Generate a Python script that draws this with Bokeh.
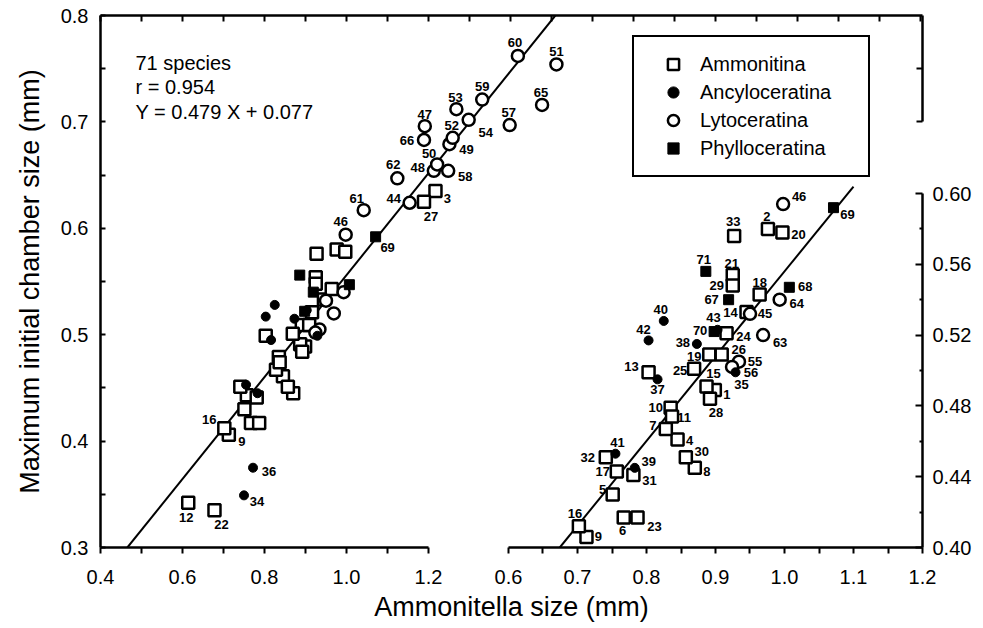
import numpy as np
from bokeh.plotting import figure
from bokeh.models import (ColumnDataSource, Range1d, LinearAxis, FixedTicker, Legend,
                          LegendItem, Label, PrintfTickFormatter)
from bokeh.core.properties import value
from bokeh.embed import file_html
from bokeh.resources import INLINE

# ---------------- data ----------------
species = list(range(1, 72))
suborder = (["Ammonitina"] * 33 + ["Ancyloceratina"] * 10 +
            ["Lytoceratina"] * 23 + ["Phylloceratina"] * 5)

ammonitella_mm = [
    0.899, 0.976, 1.217, 0.845, 0.751, 0.767, 0.828, 0.870, 0.713, 0.835,
    0.837, 0.614, 0.803, 0.945, 0.887, 0.702, 0.757, 0.964, 0.891, 0.997,
    0.925, 0.678, 0.787, 0.916, 0.869, 0.909, 1.189, 0.892, 0.925, 0.857,
    0.781, 0.741, 0.927, 0.750, 0.929, 0.772, 0.816, 0.873, 0.783, 0.825,
    0.755, 0.803, 0.903, 1.154, 0.950, 0.998, 1.191, 1.213, 1.251, 1.221,
    1.512, 1.259, 1.268, 1.298, 0.934, 0.924, 1.398, 1.248, 1.331, 1.418,
    1.042, 1.124, 0.969, 0.993, 1.477, 1.189, 0.919, 1.007, 1.071, 0.898,
    0.886]

chamber_mm = [
    0.489, 0.580, 0.635, 0.461, 0.430, 0.417, 0.467, 0.445, 0.406, 0.479,
    0.474, 0.342, 0.499, 0.533, 0.491, 0.412, 0.443, 0.543, 0.509, 0.578,
    0.554, 0.335, 0.417, 0.521, 0.501, 0.509, 0.625, 0.484, 0.548, 0.451,
    0.441, 0.451, 0.576, 0.349, 0.499, 0.375, 0.495, 0.515, 0.445, 0.528,
    0.453, 0.517, 0.523, 0.624, 0.532, 0.594, 0.696, 0.654, 0.679, 0.660,
    0.754, 0.685, 0.712, 0.702, 0.505, 0.502, 0.697, 0.654, 0.721, 0.762,
    0.617, 0.647, 0.520, 0.540, 0.716, 0.683, 0.540, 0.547, 0.592, 0.522,
    0.556]

n_species = 71
r_value = 0.954
slope = 0.479
intercept = 0.077

x_tick_labels_main = ["0.4", "0.6", "0.8", "1.0", "1.2"]
x_minor_main = [0.5, 0.7, 0.9, 1.1]
x_tick_labels_inset = ["0.6", "0.7", "0.8", "0.9", "1.0", "1.1", "1.2"]
x_minor_inset = [0.65, 0.75, 0.85, 0.95, 1.05, 1.15]
y_tick_labels_main = ["0.3", "0.4", "0.5", "0.6", "0.7", "0.8"]
y_minor_main = [0.35, 0.45, 0.55, 0.65, 0.75]
y_tick_labels_inset = ["0.40", "0.44", "0.48", "0.52", "0.56", "0.60"]
y_minor_inset = [0.42, 0.46, 0.50, 0.54, 0.58]
bracket_ticks = [0.7, 0.75]

groups = ["Ammonitina", "Ancyloceratina", "Lytoceratina", "Phylloceratina"]

# label placement (pixel offsets of each number from its marker)
main_label_offsets = {
    60: (-3, -13), 51: (0, -13), 65: (-1, -12), 57: (-1, -13), 59: (0, -13),
    54: (17, 13), 53: (-1, -12), 47: (0, -12), 66: (-17, 1), 52: (-1, -12),
    49: (17, 5), 50: (-8, -11), 48: (-16, -3), 58: (17, 6), 62: (-4, -14),
    44: (-16, -4), 27: (7, 15), 3: (12, 7), 61: (-7, -12), 46: (-5, -13),
    69: (12, 11), 16: (-15, -9), 9: (13, 7), 36: (16, 4), 34: (13, 6),
    12: (-2, 15), 22: (7, 14)}
inset_label_offsets = {
    46: (16, -8), 69: (14, 7), 2: (-1, -12), 20: (16, 2), 33: (-1, -14),
    71: (-2, -12), 21: (-1, -11), 29: (-16, 0), 67: (-17, 0), 18: (0, -12),
    68: (16, -1), 64: (17, 4), 14: (-16, 0), 45: (15, 0), 40: (-3, -11),
    42: (-5, -11), 43: (-4, -12), 70: (-14, -1), 24: (17, 3), 38: (-14, -1),
    63: (17, 7), 19: (-15, 2), 26: (17, -5), 55: (16, 0), 56: (19, 6),
    35: (6, 12), 25: (-14, 2), 13: (-17, -6), 37: (0, 10), 15: (7, -13),
    1: (12, 5), 28: (6, 14), 10: (-15, 0), 11: (12, 1), 7: (-13, -3),
    4: (12, 1), 30: (16, -6), 8: (12, 4), 41: (2, -11), 32: (-18, 0),
    39: (14, -6), 17: (-14, 0), 31: (16, 6), 5: (-10, -5), 6: (-1, 13),
    23: (17, 9), 16: (-4, -13), 9: (12, 0)}

# ---------------- geometry ----------------
W, H = 983, 628
BL, BR, BT, BB = 100, 61, 15, 81
FRAME_W, FRAME_H = W - BL - BR, H - BT - BB
MX0 = 0.4; MX1 = MX0 + FRAME_W / 410.0
MY0, MY1 = 0.3, 0.8
IX1 = 1.2; IX0 = IX1 - FRAME_W / 690.0
IY0 = 0.40; IY1 = IY0 + FRAME_H / 1770.0
INSET_X_LIM = (0.6, 1.2)
INSET_Y_LIM = (0.40, 0.60)
INSET_LINE_END = 1.10

FONT = "Liberation Sans"

def ix_to_main(v):
    return min(round(MX0 + (v - IX0) * (MX1 - MX0) / (IX1 - IX0), 6), MX1)

p = figure(width=W, height=H, x_range=Range1d(MX0, MX1), y_range=Range1d(MY0, MY1),
           x_axis_type=None, y_axis_type=None, toolbar_location=None, output_backend="svg",
           min_border_left=BL, min_border_right=BR, min_border_top=BT, min_border_bottom=BB)
p.extra_x_ranges = {"ix": Range1d(IX0, IX1)}
p.extra_y_ranges = {"iy": Range1d(IY0, IY1)}
p.outline_line_color = None
p.background_fill_color = "white"
p.border_fill_color = "white"

AXW = 2.5

def style_labels(ax, size="20px"):
    ax.major_label_text_font = FONT
    ax.major_label_text_font_size = size
    ax.major_label_text_color = "black"
    ax.axis_line_width = AXW
    ax.axis_line_color = "black"
    ax.major_tick_line_width = 2
    ax.minor_tick_line_width = 2

def bare_axis(**kw):
    ax = LinearAxis(ticker=FixedTicker(ticks=[], minor_ticks=[]), major_tick_out=0,
                    major_tick_in=0, minor_tick_out=0, minor_tick_in=0,
                    major_label_standoff=0, **kw)
    ax.axis_line_width = AXW
    ax.axis_line_color = "black"
    return ax

def tick_only_axis(minor, length, **kw):
    ax = LinearAxis(ticker=FixedTicker(ticks=[], minor_ticks=minor), major_tick_out=0,
                    major_tick_in=0, minor_tick_out=0, minor_tick_in=length,
                    major_label_standoff=0, **kw)
    ax.axis_line_width = AXW
    ax.axis_line_color = "black"
    ax.minor_tick_line_width = 2
    ax.minor_tick_line_color = "black"
    return ax

# ---- bottom: two line-only axes + one tick/label axis ----
p.add_layout(bare_axis(bounds=(float(x_tick_labels_main[0]), float(x_tick_labels_main[-1]))), "below")
p.add_layout(bare_axis(x_range_name="ix", bounds=INSET_X_LIM), "below")

main_major = [float(t) for t in x_tick_labels_main]
inset_major = [ix_to_main(float(t)) for t in x_tick_labels_inset]
overrides = {v: t for v, t in zip(main_major, x_tick_labels_main)}
overrides.update({v: t for v, t in zip(inset_major, x_tick_labels_inset)})
bottom = LinearAxis(ticker=FixedTicker(ticks=main_major + inset_major,
                                       minor_ticks=x_minor_main + [ix_to_main(v) for v in x_minor_inset]),
                    major_label_overrides=overrides, axis_label="Ammonitella size (mm)",
                    major_tick_out=6, major_tick_in=0, minor_tick_out=6, minor_tick_in=0,
                    major_label_standoff=16, axis_label_standoff=5)
style_labels(bottom)
bottom.axis_line_color = None
bottom.axis_label_text_font = FONT
bottom.axis_label_text_font_style = "normal"
bottom.axis_label_text_font_size = "27px"
bottom.axis_label_text_color = "black"
p.add_layout(bottom, "below")

# ---- left ----
left = LinearAxis(ticker=FixedTicker(ticks=[float(t) for t in y_tick_labels_main],
                                     minor_ticks=y_minor_main),
                  formatter=PrintfTickFormatter(format="%.1f"),
                  axis_label="Maximum initial chamber size (mm)",
                  major_tick_in=5, major_tick_out=0, minor_tick_in=5, minor_tick_out=0,
                  major_label_standoff=12, axis_label_standoff=13)
style_labels(left)
left.axis_label_text_font = FONT
left.axis_label_text_font_style = "normal"
left.axis_label_text_font_size = "27px"
left.axis_label_text_color = "black"
p.add_layout(left, "left")

# ---- top: ticks every 0.1 pointing inward ----
top = tick_only_axis([round(v, 1) for v in np.arange(4, 25) / 10.0], 6)
p.add_layout(top, "above")

# ---- right: bracket (main scale) + inset axis ----
bracket = tick_only_axis(bracket_ticks, 6, bounds=(0.7, 0.8))
p.add_layout(bracket, "right")

right = LinearAxis(y_range_name="iy", bounds=INSET_Y_LIM,
                   ticker=FixedTicker(ticks=[float(t) for t in y_tick_labels_inset],
                                      minor_ticks=y_minor_inset),
                   formatter=PrintfTickFormatter(format="%.2f"),
                   major_tick_in=7, major_tick_out=0, minor_tick_in=3, minor_tick_out=0,
                   major_label_standoff=10)
style_labels(right)
p.add_layout(right, "right")

# ---------------- regression lines ----------------
xa = np.array([(MY0 - intercept) / slope, (MY1 - intercept) / slope])
p.line(xa, slope * xa + intercept, line_color="black", line_width=2)
xb = np.array([(INSET_Y_LIM[0] - intercept) / slope, INSET_LINE_END])
p.line(xb, slope * xb + intercept, line_color="black", line_width=2,
       x_range_name="ix", y_range_name="iy")

# ---------------- points ----------------
X = np.array(ammonitella_mm); Y = np.array(chamber_mm); G = np.array(suborder)
in_inset = ((X >= INSET_X_LIM[0]) & (X <= INSET_X_LIM[1]) &
            (Y >= INSET_Y_LIM[0]) & (Y <= INSET_Y_LIM[1]))

style = {
    "Ammonitina": dict(marker="square", size=12, fill_color="white", line_color="black", line_width=2.5),
    "Lytoceratina": dict(marker="circle", size=12, fill_color="white", line_color="black", line_width=2.5),
    "Ancyloceratina": dict(marker="circle", size=9, fill_color="black", line_color="black", line_width=1),
    "Phylloceratina": dict(marker="square", size=10, fill_color="black", line_color="black", line_width=1),
}
draw_order = ["Ammonitina", "Lytoceratina", "Ancyloceratina", "Phylloceratina"]
legend_renderers = {}
for g in draw_order:
    m = G == g
    r = p.scatter(X[m], Y[m], **style[g])
    legend_renderers[g] = r
    mi = m & in_inset
    p.scatter(X[mi], Y[mi], x_range_name="ix", y_range_name="iy", **style[g])

def label_source(offsets):
    ids = list(offsets.keys())
    return ColumnDataSource(dict(
        x=[ammonitella_mm[i - 1] for i in ids], y=[chamber_mm[i - 1] for i in ids],
        t=[str(i) for i in ids], dx=[offsets[i][0] for i in ids], dy=[offsets[i][1] for i in ids]))

txt = dict(text="t", x_offset="dx", y_offset="dy", text_font=value(FONT), text_font_style="bold",
           text_font_size="13px", text_align="center", text_baseline="middle", text_color="black")
p.text(x="x", y="y", source=label_source(main_label_offsets), **txt)
p.text(x="x", y="y", source=label_source(inset_label_offsets), x_range_name="ix",
       y_range_name="iy", **txt)

# ---------------- annotation ----------------
for i, s in enumerate([f"{n_species} species", f"r = {r_value}",
                       f"Y = {slope} X + {intercept}"]):
    p.add_layout(Label(x=35, y=FRAME_H - 47 - 24.5 * i, x_units="screen", y_units="screen",
                       text=s, text_font=FONT, text_font_size="20px", text_baseline="middle",
                       text_color="black"))

# ---------------- legend ----------------
legend = Legend(items=[LegendItem(label=g, renderers=[legend_renderers[g]]) for g in groups],
                location=(532, 370), orientation="vertical", padding=13, spacing=0, margin=0,
                glyph_height=28, glyph_width=52, label_height=28, label_standoff=1,
                label_width=155, label_text_font=FONT, label_text_font_size="20px",
                label_text_color="black",
                border_line_color="black", border_line_width=2, border_line_alpha=1,
                background_fill_alpha=1, background_fill_color="white")
p.add_layout(legend, "center")

open("out.html", "w").write(file_html(p, INLINE))
